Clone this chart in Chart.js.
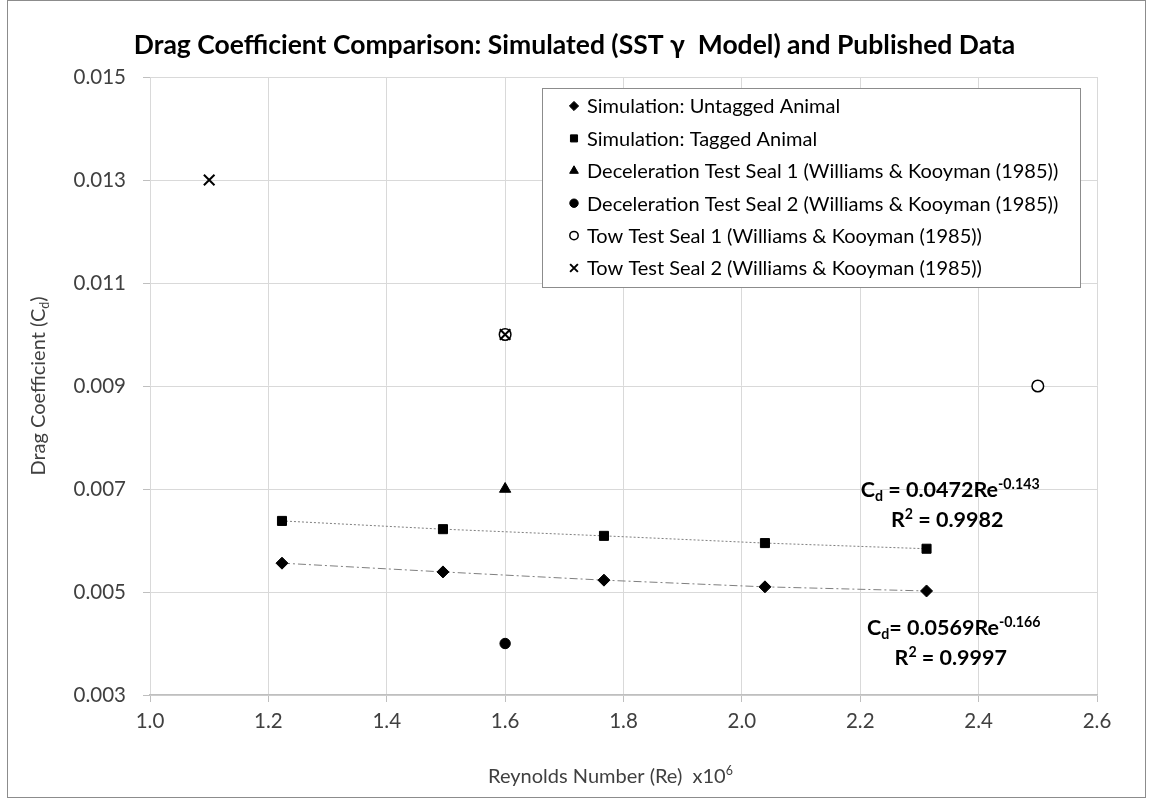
<!DOCTYPE html>
<html>
<head>
<meta charset="utf-8">
<script src="https://cdn.jsdelivr.net/npm/chart.js@4.4.1/dist/chart.umd.min.js"></script>
<style>
  html, body { margin: 0; padding: 0; background: #ffffff; }
  #wrap { width: 1153px; height: 803px; position: relative; }
</style>
</head>
<body>
<div id="wrap"><canvas id="chart" width="1153" height="803"></canvas></div>
<script>
// Reynolds numbers (x10^6) of the simulated runs
const reynolds = [1.223, 1.495, 1.767, 2.039, 2.312];
// Simulated drag coefficients
const cdUntagged = [0.00556, 0.00539, 0.00523, 0.00510, 0.00502];
const cdTagged = [0.00638, 0.00622, 0.00609, 0.00595, 0.00584];
// Published measurements, Williams & Kooyman (1985)
const decelSeal1Re = [1.6];
const decelSeal1Cd = [0.007];
const decelSeal2Re = [1.6];
const decelSeal2Cd = [0.004];
const towSeal1Re = [1.6, 2.5];
const towSeal1Cd = [0.010, 0.009];
const towSeal2Re = [1.1, 1.6];
const towSeal2Cd = [0.013, 0.010];
// Axis ticks
const xTicks = [1.0, 1.2, 1.4, 1.6, 1.8, 2.0, 2.2, 2.4, 2.6];
const yTicks = [0.003, 0.005, 0.007, 0.009, 0.011, 0.013, 0.015];
// Series names
const seriesNames = [
  'Simulation: Untagged Animal',
  'Simulation: Tagged Animal',
  'Deceleration Test Seal 1 (Williams & Kooyman (1985))',
  'Deceleration Test Seal 2 (Williams & Kooyman (1985))',
  'Tow Test Seal 1 (Williams & Kooyman (1985))',
  'Tow Test Seal 2 (Williams & Kooyman (1985))'
];
// Power-law fit results (Cd = a·Re^b)
const fitCoefficients = ['0.0472', '0.0569'];
const fitExponents = ['-0.143', '-0.166'];
const fitR2 = ['0.9982', '0.9997'];
const chartTitle = 'Drag Coefficient Comparison: Simulated (SST γ  Model) and Published Data';

const FONT = 'Lato, "Open Sans", sans-serif';
const pts = (xs, ys) => xs.map((x, i) => ({ x: x, y: ys[i] }));

const datasets = [
  { label: seriesNames[0], data: pts(reynolds, cdUntagged), pointStyle: 'rectRot', pointRadius: 6,
    backgroundColor: '#000', pointBorderColor: '#000', borderColor: '#7f7f7f', pointBorderWidth: 1,
    showLine: true, borderWidth: 1, borderDash: [8, 3, 2, 3], legendRadius: 4.6, order: 1 },
  { label: seriesNames[1], data: pts(reynolds, cdTagged), pointStyle: 'rect', pointRadius: 6.4,
    backgroundColor: '#000', pointBorderColor: '#000', borderColor: '#7f7f7f', pointBorderWidth: 1,
    showLine: true, borderWidth: 1, borderDash: [2, 2], legendRadius: 5, order: 1 },
  { label: seriesNames[2], data: pts(decelSeal1Re, decelSeal1Cd), pointStyle: 'triangle', pointRadius: 6.5,
    backgroundColor: '#000', borderColor: '#000', pointBorderWidth: 1, legendRadius: 5, order: 1 },
  { label: seriesNames[3], data: pts(decelSeal2Re, decelSeal2Cd), pointStyle: 'circle', pointRadius: 5.2,
    backgroundColor: '#000', borderColor: '#000', pointBorderWidth: 1, legendRadius: 4.2, order: 1 },
  { label: seriesNames[4], data: pts(towSeal1Re, towSeal1Cd), pointStyle: 'circle', pointRadius: 5.8,
    backgroundColor: '#fff', borderColor: '#000', pointBorderWidth: 1.5, legendRadius: 4.2, order: 1 },
  // crosses sit on top of the open circles
  { label: seriesNames[5], data: pts(towSeal2Re, towSeal2Cd), pointStyle: 'crossRot', pointRadius: 7.5,
    backgroundColor: '#000', borderColor: '#000', pointBorderWidth: 2, legendRadius: 5.5, order: 0 }
];

// White background, chart title and outer frame
const framePlugin = {
  id: 'frame',
  beforeDraw(chart) {
    const ctx = chart.ctx;
    ctx.save();
    ctx.fillStyle = '#fff';
    ctx.fillRect(0, 0, chart.width, chart.height);
    ctx.restore();
  },
  afterDraw(chart) {
    const ctx = chart.ctx;
    ctx.save();
    ctx.fillStyle = '#000';
    ctx.font = `bold 26.5px ${FONT}`;
    ctx.textAlign = 'center';
    ctx.textBaseline = 'middle';
    ctx.fillText(chartTitle, chart.width / 2 - 2, 45);
    ctx.strokeStyle = '#8c8c8c';
    ctx.lineWidth = 1;
    ctx.strokeRect(7.5, 0.5, chart.width - 15, chart.height - 6);
    ctx.restore();
  }
};

// Measures a run of text pieces with sub/superscripts
function richWidth(ctx, parts, size, weight, ratio) {
  let w = 0;
  parts.forEach(p => {
    const s = p.sup || p.sub ? size * ratio : size;
    ctx.font = `${weight} ${s}px ${FONT}`;
    w += ctx.measureText(p.t).width;
  });
  return w;
}
// Draws a run of text pieces with sub/superscripts
function drawRich(ctx, parts, x, baseline, size, weight, align, ratio) {
  ratio = ratio || 0.62;
  const w = richWidth(ctx, parts, size, weight, ratio);
  let cx = align === 'center' ? x - w / 2 : x;
  ctx.textAlign = 'left';
  ctx.textBaseline = 'alphabetic';
  parts.forEach(p => {
    const s = p.sup || p.sub ? size * ratio : size;
    ctx.font = `${weight} ${s}px ${FONT}`;
    let dy = 0;
    if (p.sup) dy = -size * 0.38;
    if (p.sub) dy = size * 0.2;
    ctx.fillText(p.t, cx, baseline + dy);
    cx += ctx.measureText(p.t).width;
  });
}

// Axis titles with sub/superscripts
const axisTitlePlugin = {
  id: 'axisTitles',
  afterDraw(chart) {
    const ctx = chart.ctx;
    const area = chart.chartArea;
    ctx.save();
    ctx.fillStyle = '#404040';
    drawRich(ctx, [{ t: 'Reynolds Number (Re)  x10' }, { t: '6', sup: true }],
      (area.left + area.right) / 2 - 13, chart.height - 20, 20, 'normal', 'center');
    ctx.translate(45, (area.top + area.bottom) / 2);
    ctx.rotate(-Math.PI / 2);
    drawRich(ctx, [{ t: 'Drag Coefficient (C' }, { t: 'd', sub: true }, { t: ')' }],
      0, 0, 20, 'normal', 'center');
    ctx.restore();
  }
};

// Legend box placed inside the plot area
const insetLegendPlugin = {
  id: 'insetLegend',
  afterDatasetsDraw(chart) {
    const ctx = chart.ctx;
    const area = chart.chartArea;
    const left = area.left + 392, top = area.top + 11, w = 538, h = 199;
    ctx.save();
    ctx.fillStyle = '#fff';
    ctx.fillRect(left, top, w, h);
    ctx.strokeStyle = '#8c8c8c';
    ctx.lineWidth = 1;
    ctx.strokeRect(left + 0.5, top + 0.5, w, h);
    chart.data.datasets.forEach((ds, i) => {
      const y = top + 18 + i * 32.4;
      ctx.fillStyle = ds.backgroundColor;
      ctx.strokeStyle = '#000';
      ctx.lineWidth = ds.pointBorderWidth;
      ctx.setLineDash([]);
      Chart.helpers.drawPoint(ctx, { pointStyle: ds.pointStyle, radius: ds.legendRadius,
        borderWidth: ds.pointBorderWidth, rotation: 0 }, left + 32, y);
      ctx.fillStyle = '#000';
      ctx.font = `normal 20px ${FONT}`;
      ctx.textAlign = 'left';
      ctx.textBaseline = 'middle';
      ctx.fillText(ds.label, left + 45, y + 1);
    });
    ctx.restore();
  }
};

// Fit equations next to the trendlines
const fitLabelPlugin = {
  id: 'fitLabels',
  afterDatasetsDraw(chart) {
    const ctx = chart.ctx;
    const xs = chart.scales.x, ys = chart.scales.y;
    const anchors = [{ x: 2.352, y: 0.006845 }, { x: 2.358, y: 0.004165 }];
    const eqs = [
      [{ t: 'C' }, { t: 'd', sub: true }, { t: ' = ' + fitCoefficients[0] + 'Re' }, { t: fitExponents[0], sup: true }],
      [{ t: 'C' }, { t: 'd', sub: true }, { t: '= ' + fitCoefficients[1] + 'Re' }, { t: fitExponents[1], sup: true }]
    ];
    ctx.save();
    ctx.fillStyle = '#000';
    anchors.forEach((a, i) => {
      const px = xs.getPixelForValue(a.x), py = ys.getPixelForValue(a.y);
      drawRich(ctx, eqs[i], px, py, 21.5, 'bold', 'center', 0.66);
      drawRich(ctx, [{ t: 'R' }, { t: '2', sup: true }, { t: ' = ' + fitR2[i] }], px - 3, py + 30, 21.5, 'bold', 'center', 0.66);
    });
    ctx.restore();
  }
};

new Chart(document.getElementById('chart'), {
  type: 'scatter',
  data: { datasets: datasets },
  options: {
    responsive: false,
    animation: false,
    layout: { padding: { left: 0, right: 56, top: 77, bottom: 0 } },
    plugins: {
      legend: { display: false },
      tooltip: { enabled: false },
      title: { display: false }
    },
    scales: {
      x: {
        type: 'linear',
        min: xTicks[0],
        max: xTicks[xTicks.length - 1],
        afterBuildTicks: s => { s.ticks = xTicks.map(v => ({ value: v })); },
        afterFit: s => { s.height = 108; },
        ticks: {
          color: '#404040',
          font: { family: FONT, size: 20.5 },
          padding: 7,
          callback: v => Number(v).toFixed(1)
        },
        grid: { color: '#d9d9d9', lineWidth: 1, tickLength: 7, tickColor: '#bfbfbf' },
        border: { color: '#bfbfbf', width: 1.5 }
      },
      y: {
        type: 'linear',
        min: yTicks[0],
        max: yTicks[yTicks.length - 1],
        afterBuildTicks: s => { s.ticks = yTicks.map(v => ({ value: v })); },
        afterFit: s => { s.width = 150; },
        ticks: {
          color: '#404040',
          font: { family: FONT, size: 20.5 },
          padding: 17,
          callback: v => Number(v).toFixed(3)
        },
        grid: { color: '#d9d9d9', lineWidth: 1, tickLength: 7, tickColor: '#bfbfbf' },
        border: { display: false }
      }
    }
  },
  plugins: [framePlugin, axisTitlePlugin, insetLegendPlugin, fitLabelPlugin]
});
</script>
</body>
</html>
